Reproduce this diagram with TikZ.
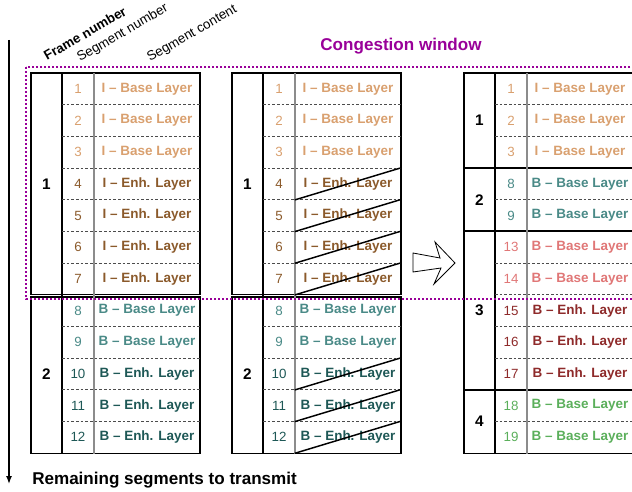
\documentclass[tikz,border=0pt]{standalone}
\usepackage{fontspec}
\setmainfont{Liberation Sans}
\usetikzlibrary{arrows.meta}
\definecolor{ibase}{HTML}{D9A06F}
\definecolor{ienh}{HTML}{8B5A2B}
\definecolor{bbase}{HTML}{4A8A87}
\definecolor{benh}{HTML}{1E5856}
\definecolor{rbase}{HTML}{E07777}
\definecolor{renh}{HTML}{8E2A2A}
\definecolor{gbase}{HTML}{5BAF5B}
\definecolor{cwin}{HTML}{990099}
\newcommand\ibtxt{I \textendash{} Base Layer}
\newcommand\ietxt{I \textendash{} Enh. Layer}
\newcommand\bbtxt{B \textendash{} Base Layer}
\newcommand\betxt{B \textendash{} Enh. Layer}
% #1 table id, #2 x0, #3 row, #4 seg number, #5 text, #6 colour
\newcommand\segrow[6]{%
  \node[num, text=#6] (n-#1-#4) at (#2+47, 73+31.67*#3-15.835) {#4};
  \node[cell, text=#6] (c-#1-#4) at (#2+116, 73+31.67*#3-15.835) {#5};
}
\begin{document}
\begin{tikzpicture}[x=0.75pt,y=-0.75pt,
  cell/.style={minimum width=79.5pt, minimum height=23.75pt, inner sep=0pt,
    font=\fontsize{10.1}{12}\selectfont\bfseries},
  num/.style={inner sep=0pt, font=\fontsize{10}{12}\selectfont},
  flabel/.style={inner sep=0pt, font=\fontsize{11.5}{13}\selectfont\bfseries},
  frameline/.style={draw=black, line width=1.3pt},
  colline/.style={draw=black, line width=0.8pt},
  segline/.style={draw=black!45, line width=1pt},
  rowsep/.style={draw=black!70, line width=0.6pt, dash pattern=on 2pt off 1.5pt},
  strike/.style={draw=black, line width=1.1pt},
  header/.style={rotate=30, anchor=base west, inner sep=0pt, font=\fontsize{10}{12}\selectfont},
  bigtext/.style={inner sep=0pt, font=\fontsize{12.8}{15}\selectfont\bfseries},
  winbox/.style={draw=cwin, line width=1.8pt, dash pattern=on 1.6pt off 1.4pt}]
\path[use as bounding box] (0,0) rectangle (632,492);
\clip (0,0) rectangle (632,492);

% ---------- headers ----------
\node[header, font=\fontsize{10}{12}\selectfont\bfseries] (hframe) at (47,61) {Frame number};
\node[header] (hseg) at (80,62) {Segment number};
\node[header] (hcont) at (150,62) {Segment content};

% ---------- table A ----------
\draw[frameline] (31,73) rectangle (200,294.6);
\draw[frameline] (31,297.2) rectangle (200,453.5);
\draw[colline] (62,73) -- (62,453.5);
\draw[segline] (94,73) -- (94,453.5);
\foreach \k in {1,2,3,4,5,6,8,9,10,11}
  \draw[rowsep] (62,73+31.67*\k) -- (200,73+31.67*\k);
\node[flabel] (f-A-1) at (46.5,73+31.67*3.5) {1};
\node[flabel] (f-A-2) at (46.5,73+31.67*9.5) {2};
\segrow{A}{31}{1}{1}{\ibtxt}{ibase}
\segrow{A}{31}{2}{2}{\ibtxt}{ibase}
\segrow{A}{31}{3}{3}{\ibtxt}{ibase}
\segrow{A}{31}{4}{4}{\ietxt}{ienh}
\segrow{A}{31}{5}{5}{\ietxt}{ienh}
\segrow{A}{31}{6}{6}{\ietxt}{ienh}
\segrow{A}{31}{7}{7}{\ietxt}{ienh}
\segrow{A}{31}{8}{8}{\bbtxt}{bbase}
\segrow{A}{31}{9}{9}{\bbtxt}{bbase}
\segrow{A}{31}{10}{10}{\betxt}{benh}
\segrow{A}{31}{11}{11}{\betxt}{benh}
\segrow{A}{31}{12}{12}{\betxt}{benh}

% ---------- table B ----------
\draw[frameline] (232,73) rectangle (401,294.6);
\draw[frameline] (232,297.2) rectangle (401,453.5);
\draw[colline] (263,73) -- (263,453.5);
\draw[segline] (295,73) -- (295,453.5);
\foreach \k in {1,2,3,4,5,6,8,9,10,11}
  \draw[rowsep] (263,73+31.67*\k) -- (401,73+31.67*\k);
\node[flabel] (f-B-1) at (247.5,73+31.67*3.5) {1};
\node[flabel] (f-B-2) at (247.5,73+31.67*9.5) {2};
\segrow{B}{232}{1}{1}{\ibtxt}{ibase}
\segrow{B}{232}{2}{2}{\ibtxt}{ibase}
\segrow{B}{232}{3}{3}{\ibtxt}{ibase}
\segrow{B}{232}{4}{4}{\ietxt}{ienh}
\segrow{B}{232}{5}{5}{\ietxt}{ienh}
\segrow{B}{232}{6}{6}{\ietxt}{ienh}
\segrow{B}{232}{7}{7}{\ietxt}{ienh}
\segrow{B}{232}{8}{8}{\bbtxt}{bbase}
\segrow{B}{232}{9}{9}{\bbtxt}{bbase}
\segrow{B}{232}{10}{10}{\betxt}{benh}
\segrow{B}{232}{11}{11}{\betxt}{benh}
\segrow{B}{232}{12}{12}{\betxt}{benh}
\foreach \s in {4,5,6,7,10,11,12}
  \draw[strike] (c-B-\s.south west) -- (c-B-\s.north east);

% ---------- arrow between B and C ----------
\draw[fill=white, line width=0.6pt, line join=miter]
  (413,253) -- (440,258) -- (435,242) -- (455,263) -- (434,284) -- (441,268) -- (413,272) -- cycle;

% ---------- table C ----------
\draw[frameline] (464,73) rectangle (638,453.5);
\foreach \k in {3,5,10}
  \draw[frameline] (464,73+31.67*\k) -- (638,73+31.67*\k);
\draw[colline] (495,73) -- (495,453.5);
\draw[segline] (527,73) -- (527,453.5);
\foreach \k in {1,2,4,6,7,8,9,11}
  \draw[rowsep] (495,73+31.67*\k) -- (638,73+31.67*\k);
\node[flabel] (f-C-1) at (479.5,73+31.67*1.5) {1};
\node[flabel] (f-C-2) at (479.5,73+31.67*4) {2};
\node[flabel] (f-C-3) at (479.5,73+31.67*7.5) {3};
\node[flabel] (f-C-4) at (479.5,73+31.67*11) {4};
\segrow{C}{464}{1}{1}{\ibtxt}{ibase}
\segrow{C}{464}{2}{2}{\ibtxt}{ibase}
\segrow{C}{464}{3}{3}{\ibtxt}{ibase}
\segrow{C}{464}{4}{8}{\bbtxt}{bbase}
\segrow{C}{464}{5}{9}{\bbtxt}{bbase}
\segrow{C}{464}{6}{13}{\bbtxt}{rbase}
\segrow{C}{464}{7}{14}{\bbtxt}{rbase}
\segrow{C}{464}{8}{15}{\betxt}{renh}
\segrow{C}{464}{9}{16}{\betxt}{renh}
\segrow{C}{464}{10}{17}{\betxt}{renh}
\segrow{C}{464}{11}{18}{\bbtxt}{gbase}
\segrow{C}{464}{12}{19}{\bbtxt}{gbase}

% ---------- congestion window ----------
\draw[winbox] (26,67) rectangle (650,299);
\node[bigtext, text=cwin, anchor=base] (cwlabel) at (401,51) {Congestion window};

% ---------- remaining segments arrow ----------
\coordinate (vtop) at (9,40);
\coordinate (vbot) at (9,484);
\draw[line width=1pt, -{Latex[length=6pt,width=4.5pt]}] (vtop) -- (vbot);
\node[bigtext, anchor=base west] (remlabel) at (32,484) {Remaining segments to transmit};
\end{tikzpicture}
\end{document}
